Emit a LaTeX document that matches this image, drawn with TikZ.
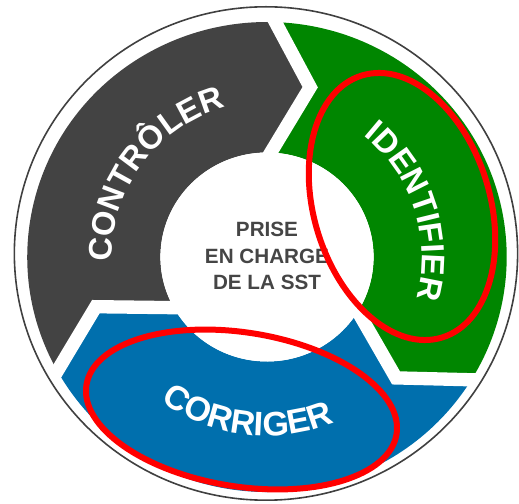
\documentclass[tikz,border=0pt]{standalone}
\usepackage{fontspec}
\setmainfont{Liberation Sans}
\usetikzlibrary{calc,decorations.text}
\definecolor{segGray}{HTML}{434343}
\definecolor{segGreen}{HTML}{008600}
\definecolor{segBlue}{HTML}{006FAD}
\definecolor{coreText}{HTML}{454545}
\definecolor{rimLine}{HTML}{404040}
\definecolor{markRed}{HTML}{FF0000}
\newcommand\RingLabelFont{\fontsize{24.5}{24.5}\selectfont\bfseries}
\newcommand\RingLabelFontB{\fontsize{25.5}{25.5}\selectfont\bfseries}
\newcommand\RingOut{235}
\newcommand\RingIn{104.5}
\newcommand\RingTip{175}
\begin{document}
\begin{tikzpicture}[x=0.75pt,y=0.75pt,
  gapline/.style={white,line width=10pt,line join=miter},
  rimline/.style={rimLine,line width=1.2pt},
  redmark/.style={markRed,line width=4.5pt},
  coretext/.style={align=center,text=coreText,font=\fontsize{15.5}{20}\selectfont\bfseries},
  ringlabel/.style={decorate,decoration={text along path,text={|\RingLabelFont|#1},text align=center,text color=white}},
  ringlabelb/.style={decorate,decoration={text along path,text={|\RingLabelFontB|#1},text align=center,text color=white}}]
\useasboundingbox (0,0) rectangle (519,504);
\coordinate (C) at (267,247);
\begin{scope}[shift={(267,247)},xscale=1.02]
  % boundary points
  \coordinate (oT) at (88:\RingOut);   \coordinate (iT) at (88:\RingIn);   \coordinate (tT) at (76:\RingTip);
  \coordinate (oR) at (-31.5:\RingOut); \coordinate (iR) at (-31.5:\RingIn); \coordinate (tR) at (-43.7:\RingTip);
  \coordinate (oL) at (209:\RingOut);  \coordinate (iL) at (209:\RingIn);  \coordinate (tL) at (196.5:\RingTip);
  % segments
  \fill[segGray] (oL) arc[start angle=209,end angle=88,radius=\RingOut] -- (tT) -- (iT)
     arc[start angle=88,end angle=209,radius=\RingIn] -- (tL) -- cycle;
  \fill[segGreen] (oT) arc[start angle=88,end angle=-31.5,radius=\RingOut] -- (tR) -- (iR)
     arc[start angle=-31.5,end angle=88,radius=\RingIn] -- (tT) -- cycle;
  \fill[segBlue] (oR) arc[start angle=-31.5,end angle=-151,radius=\RingOut] -- (tL) -- (iL)
     arc[start angle=-151,end angle=-31.5,radius=\RingIn] -- (tR) -- cycle;
  % gaps
  \draw[gapline] ($(tT)!1.15!(oT)$) -- (tT) -- ($(tT)!1.3!(iT)$);
  \draw[gapline] ($(tR)!1.15!(oR)$) -- (tR) -- ($(tR)!1.3!(iR)$);
  \draw[gapline] ($(tL)!1.15!(oL)$) -- (tL) -- ($(tL)!1.3!(iL)$);
  % hub
  \fill[white] (0,0) circle[radius=\RingIn];
  % rim
  \draw[rimline] (-1,3.5) circle[radius=246.7];
\end{scope}
% ring labels
\path[ringlabel={CONTRÔLER}] ($(C)+(233.5:155)$) arc[start angle=233.5,end angle=53.5,radius=155];
\path[ringlabel={IDENTIFIER}] ($(C)+(108:155)$) arc[start angle=108,end angle=-72,radius=155];
\path[ringlabelb={CORRIGER}] ($(C)+(173:179)$) arc[start angle=173,end angle=353,radius=179];
% centre text
\node[coretext] (core) at (267,248) {PRISE\\EN CHARGE\\DE LA SST};
% red marks
\draw[redmark,rotate around={17:(402,297.5)}] (402,297.5) ellipse[x radius=88,y radius=137];
\draw[redmark,rotate around={-9:(241.5,94.5)}] (241.5,94.5) ellipse[x radius=157,y radius=77];
\end{tikzpicture}
\end{document}
